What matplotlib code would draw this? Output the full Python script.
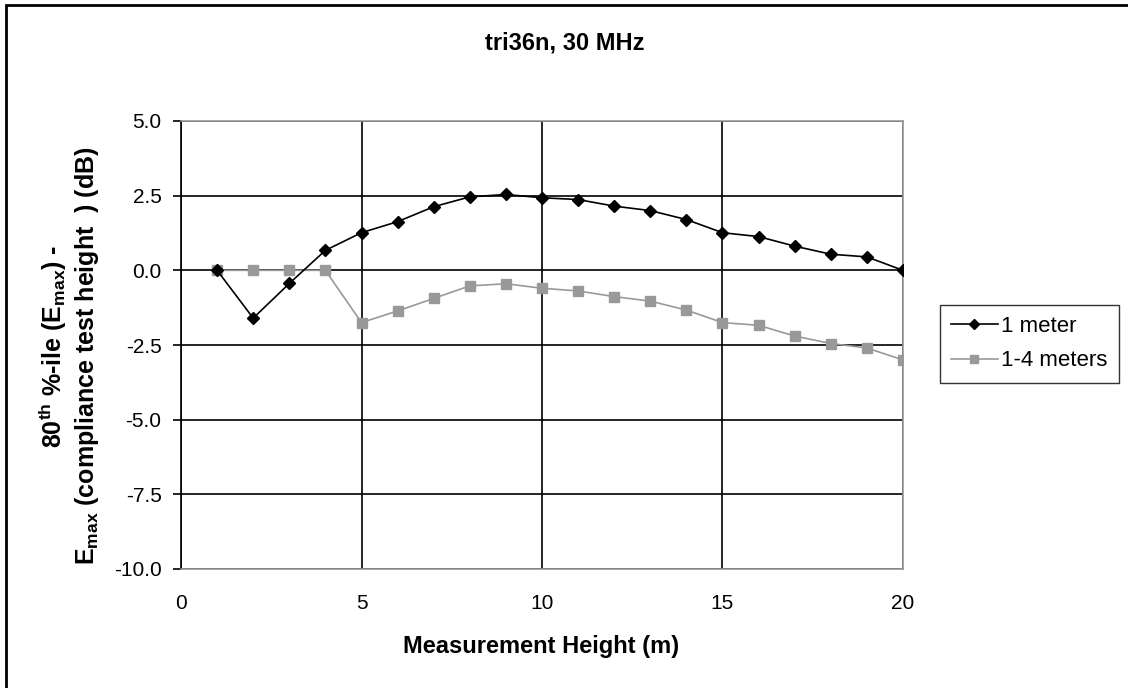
"""Recreation of the tri36n, 30 MHz height-gain chart."""

import matplotlib

matplotlib.use("Agg")
import matplotlib.pyplot as plt
from matplotlib.patches import Rectangle

plt.rcParams["font.family"] = ["Liberation Sans", "DejaVu Sans"]
plt.rcParams["mathtext.fontset"] = "custom"
plt.rcParams["mathtext.default"] = "regular"

heights = list(range(1, 21))
one_meter = [0.0, -1.6, -0.44, 0.67, 1.26, 1.63, 2.13, 2.46, 2.54, 2.43,
             2.37, 2.15, 2.0, 1.7, 1.26, 1.13, 0.81, 0.54, 0.45, 0.0]
one_to_four = [0.0, 0.0, 0.0, 0.0, -1.75, -1.36, -0.94, -0.52, -0.45, -0.6,
               -0.69, -0.88, -1.03, -1.33, -1.75, -1.84, -2.2, -2.45, -2.6, -3.0]
yticks = [5.0, 2.5, 0.0, -2.5, -5.0, -7.5, -10.0]
xticks = [0, 5, 10, 15, 20]

W, H = 1128, 688
fig = plt.figure(figsize=(W / 100, H / 100), dpi=100)
ax = fig.add_axes([181 / W, 1 - 569 / H, 722 / W, 448 / H])

# outer chart frame (only left/top edges fall inside the image)
fig.patches.append(Rectangle((6 / W, -0.1), 1.2, 1.1 - 5 / H,
                             transform=fig.transFigure, fill=False,
                             edgecolor="black", linewidth=2))

ax.plot(heights, one_meter, color="black", marker="D", markersize=6.5,
        linewidth=1.2, label="1 meter", zorder=4)
ax.plot(heights, one_to_four, color="#999999", marker="s", markersize=7,
        linewidth=1.2, label="1-4 meters", zorder=3)

ax.set_xlim(0, 20)
ax.set_ylim(-10, 5)
ax.set_xticks(xticks)
ax.set_yticks(yticks)
ax.set_yticklabels([f"{v:.1f}" for v in yticks], fontsize=15)
ax.set_xticklabels([str(v) for v in xticks], fontsize=15)
ax.tick_params(axis="x", length=0, pad=18)
ax.tick_params(axis="y", length=6, width=1.2, direction="out", pad=8)

ax.grid(True, color="black", linewidth=1.2, zorder=0)
ax.set_axisbelow(True)
for side in ("top", "right", "bottom"):
    ax.spines[side].set_color("#999999")
    ax.spines[side].set_linewidth(1.2)
ax.spines["left"].set_color("black")
ax.spines["left"].set_linewidth(1.2)

fig.text(541 / W, 1 - 647 / H, "Measurement Height (m)", ha="center",
         va="center", fontsize=17, fontweight="bold")
fig.text(53 / W, 1 - 346 / H, r"80$^{th}$ %-ile (E$_{max}$) -",
         rotation=90, ha="center", va="center", fontsize=18, fontweight="bold")
fig.text(87 / W, 1 - 356 / H, r"E$_{max}$ (compliance test height  ) (dB)",
         rotation=90, ha="center", va="center", fontsize=18, fontweight="bold")
fig.text(565 / W, 1 - 43 / H, "tri36n, 30 MHz", ha="center", va="center",
         fontsize=17, fontweight="bold")

leg = fig.legend(loc="upper left", bbox_to_anchor=(940 / W, 1 - 305 / H),
                 fontsize=16, frameon=True, fancybox=False, handlelength=2.1,
                 borderpad=0.5, labelspacing=0.6, handletextpad=0.15,
                 markerscale=0.8, borderaxespad=0)
leg.get_frame().set_edgecolor("black")
leg.get_frame().set_linewidth(1.0)

fig.savefig("out.png", dpi=100)
